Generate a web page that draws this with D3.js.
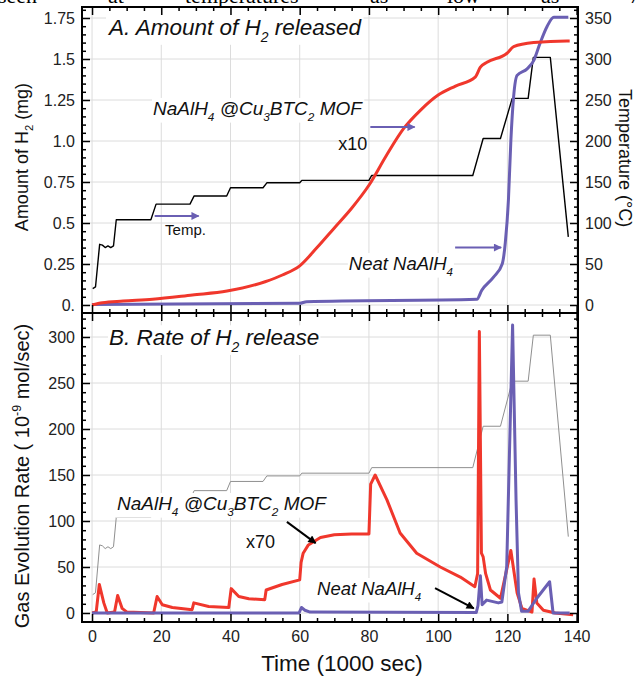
<!DOCTYPE html>
<html>
<head>
<meta charset="utf-8">
<script src="https://cdn.jsdelivr.net/npm/d3@7"></script>
<style>
  body { margin: 0; background: #fff; }
  svg { display: block; font-family: "Liberation Sans", Arial, sans-serif; }
  .grid line { stroke: #dcdcdc; stroke-width: 1; }
  .axis line { stroke: #000; stroke-width: 1.5; }
  .axis text { font-size: 16px; fill: #222; font-family: "Liberation Sans", Arial, sans-serif; }
</style>
</head>
<body>
<svg id="chart" width="638" height="679"></svg>
<script>
// ---- data (time in 1000 sec) ----
// temperature program, deg C (black line in A, gray in B)
var tempTime = [0.2, 1.0, 2.2, 3.0, 3.8, 4.6, 5.4, 6.2, 7.0, 17.0, 18.5, 28.3, 29.5, 38.9, 40.0, 49.4, 50.5, 60.0, 60.6, 80.0, 80.8, 110.0, 113.0, 118.0, 121.4, 126.0, 127.5, 132.4, 137.6];
var tempC    = [20, 22, 74, 73, 70, 72, 70, 72, 104, 104, 123, 123, 133, 133, 143, 143, 149, 149, 152, 152, 158, 158, 203, 203, 252, 252, 302, 302, 83];

// A: amount of H2 (mg)
var mofAmtTime = [0, 3, 9, 17.5, 29, 39, 50, 55, 60, 65, 70, 75, 80, 85, 90, 95, 100, 105, 110.7, 112.2, 114.1, 119.9, 121.8, 127.6, 137.2, 138];
var mofAmt     = [0, 0.014, 0.024, 0.035, 0.061, 0.085, 0.142, 0.183, 0.239, 0.35, 0.47, 0.59, 0.73, 0.91, 1.075, 1.19, 1.28, 1.335, 1.39, 1.45, 1.48, 1.535, 1.575, 1.60, 1.61, 1.61];
var neatAmtTime = [0, 60, 62, 111.2, 112.6, 116, 118.5, 119.4, 120.3, 121, 121.8, 122.8, 125.7, 127.6, 129.5, 131.5, 133.4, 137.6];
var neatAmt     = [0.003, 0.01, 0.02, 0.035, 0.09, 0.17, 0.25, 0.38, 0.64, 1.0, 1.27, 1.40, 1.44, 1.49, 1.60, 1.70, 1.755, 1.755];

// B: gas evolution rate (1e-9 mol/sec)
var mofRateTime = [0, 1.2, 2.1, 3.4, 4.4, 6.5, 7.4, 8.7, 10.1, 17.8, 18.8, 20.3, 23.2, 28.9, 29.4, 33.7, 39.5, 40.2, 42.4, 45.3, 49.9, 50.3, 54.9, 60.0, 60.4, 61, 62.5, 66, 70, 75, 80.0, 80.5, 81.8, 85.2, 89, 93.8, 100.6, 106.4, 110.6, 111.4, 111.9, 112.5, 113.0, 113.7, 115.1, 118, 121, 122.8, 124.2, 127.1, 127.7, 128.5, 130.4, 133.8, 139];
var mofRate     = [0, 1, 31, 11, 0, 1, 19, 5, 1, 0, 18, 9, 6, 3.6, 11, 7, 6, 26.5, 18, 15.5, 14.5, 25, 31, 36, 55, 65, 74, 82, 85, 86, 86, 140, 150, 123, 87, 65, 50, 39, 28.6, 43, 306, 65, 61, 43, 25, 16, 68, 22, 5, 1, 37, 11, 3, 0, -2];
var neatRateTime = [0, 59.8, 60.5, 61.5, 63, 111, 111.5, 112.2, 112.7, 114, 117.4, 118.4, 119.8, 121.5, 122.5, 123.2, 124.1, 126, 128.5, 132.2, 133.2, 138];
var neatRate     = [0, 0, 6, 3, 1, 0.5, 8, 40.5, 9, 14, 11, 12, 50, 313, 123, 22, 2, 2, 16, 34, 0, 0];

var leftTicksA = ["0.", "0.25", "0.5", "0.75", "1.0", "1.25", "1.5", "1.75"];

var svg = d3.select("#chart");
var left = 82, right = 578, topA = 7, midY = 313, botB = 622;

var x = d3.scaleLinear().domain([-2.9, 140.4]).range([left, right]);
var yA = d3.scaleLinear().domain([0, 1.75]).range([305, 18]);
var yT = d3.scaleLinear().domain([0, 350]).range([305, 18]);
var yB = d3.scaleLinear().domain([0, 300]).range([613, 337]);

var red = "#f0372c", purple = "#6a5fb3";

// sentence fragment cut off above the figure
var words = [["seen", -2], ["at", 108], ["temperatures", 185], ["as", 370], ["low", 447], ["as", 541], ["70", 629]];
words.forEach(function (w) {
  svg.append("text").attr("x", w[1]).attr("y", 2.5)
    .attr("font-family", "Liberation Serif, Times New Roman, serif")
    .attr("font-size", 22).text(w[0]);
});

// clip paths
var defs = svg.append("defs");
defs.append("clipPath").attr("id", "clipA").append("rect")
  .attr("x", left).attr("y", topA).attr("width", right - left).attr("height", midY - topA);
defs.append("clipPath").attr("id", "clipB").append("rect")
  .attr("x", left).attr("y", midY).attr("width", right - left).attr("height", botB - midY);
function marker(id, col) {
  defs.append("marker").attr("id", id).attr("viewBox", "0 0 10 10")
    .attr("refX", 9).attr("refY", 5).attr("markerWidth", 10).attr("markerHeight", 8)
    .attr("markerUnits", "userSpaceOnUse").attr("orient", "auto")
    .append("path").attr("d", "M0,0 L10,5 L0,10 Z").attr("fill", col);
}
marker("headP", purple);
marker("headK", "#000");

// grid
var grid = svg.append("g").attr("class", "grid");
var xMaj = d3.range(0, 141, 20);
xMaj.forEach(function (t) {
  grid.append("line").attr("x1", x(t)).attr("x2", x(t)).attr("y1", topA).attr("y2", botB);
});
d3.range(0, 1.76, 0.25).forEach(function (v) {
  grid.append("line").attr("x1", left).attr("x2", right).attr("y1", yA(v)).attr("y2", yA(v));
});
d3.range(0, 301, 50).forEach(function (v) {
  grid.append("line").attr("x1", left).attr("x2", right).attr("y1", yB(v)).attr("y2", yB(v));
});

// lines
function series(tt, vv, ys, clip, col, w, curve) {
  var pts = tt.map(function (t, i) { return [t, vv[i]]; });
  var line = d3.line().x(function (d) { return x(d[0]); }).y(function (d) { return ys(d[1]); })
    .curve(curve || d3.curveLinear);
  svg.append("path").attr("d", line(pts)).attr("clip-path", "url(#" + clip + ")")
    .attr("fill", "none").attr("stroke", col).attr("stroke-width", w)
    .attr("stroke-linejoin", "round");
}
series(tempTime, tempC, yT, "clipA", "#000", 1.4);
series(neatAmtTime, neatAmt, yA, "clipA", purple, 3, d3.curveMonotoneX);
series(mofAmtTime, mofAmt, yA, "clipA", red, 3, d3.curveMonotoneX);

series(tempTime, tempC, yB, "clipB", "#8f8f8f", 1);
series(mofRateTime, mofRate, yB, "clipB", red, 3);
series(neatRateTime, neatRate, yB, "clipB", purple, 3);

// axes
function axis(gen, scale, vals, size, tr, fmt) {
  var a = gen(scale).tickValues(vals).tickSize(size).tickSizeOuter(0).tickPadding(7)
    .tickFormat(fmt || function () { return ""; });
  var g = svg.append("g").attr("class", "axis").attr("transform", tr).call(a);
  g.select(".domain").remove();
  return g;
}
function minor(all, maj) {
  return all.filter(function (v) { return Math.abs(v / maj - Math.round(v / maj)) > 1e-6; });
}
var xMin = minor(d3.range(0, 141, 5), 20);
axis(d3.axisTop, x, xMaj, -8, "translate(0," + topA + ")");
axis(d3.axisTop, x, xMin, -4, "translate(0," + topA + ")");
axis(d3.axisBottom, x, xMaj, -8, "translate(0," + midY + ")");
axis(d3.axisBottom, x, xMin, -4, "translate(0," + midY + ")");
axis(d3.axisTop, x, xMaj, -8, "translate(0," + midY + ")");
axis(d3.axisTop, x, xMin, -4, "translate(0," + midY + ")");
axis(d3.axisBottom, x, xMaj, -8, "translate(0," + botB + ")", d3.format("d"))
  .selectAll("text").attr("font-size", 17).attr("y", 9);
axis(d3.axisBottom, x, xMin, -4, "translate(0," + botB + ")");

var aMaj = d3.range(0, 1.76, 0.25);
axis(d3.axisLeft, yA, aMaj, -8, "translate(" + left + ",0)", function (d, i) { return leftTicksA[i]; });
axis(d3.axisLeft, yA, minor(d3.range(0, 1.81, 0.05).map(function (v) { return +v.toFixed(2); }), 0.25), -4, "translate(" + left + ",0)");
axis(d3.axisRight, yT, d3.range(0, 351, 50), -8, "translate(" + right + ",0)", d3.format("d"));
axis(d3.axisRight, yT, minor(d3.range(0, 361, 10), 50), -4, "translate(" + right + ",0)");

var bMaj = d3.range(0, 301, 50);
var bMin = minor(d3.range(0, 321, 10), 50);
axis(d3.axisLeft, yB, bMaj, -8, "translate(" + left + ",0)", d3.format("d"));
axis(d3.axisLeft, yB, bMin, -4, "translate(" + left + ",0)");
axis(d3.axisRight, yB, bMaj, -8, "translate(" + right + ",0)");
axis(d3.axisRight, yB, bMin, -4, "translate(" + right + ",0)");

// frame
svg.append("rect").attr("x", left).attr("y", topA).attr("width", right - left).attr("height", botB - topA)
  .attr("fill", "none").attr("stroke", "#000").attr("stroke-width", 2);
svg.append("line").attr("x1", left).attr("x2", right).attr("y1", midY).attr("y2", midY)
  .attr("stroke", "#000").attr("stroke-width", 2);

// text with sub/superscripts
function rich(parent, x0, y0, parts, size, italic, bg, anchor) {
  var t = parent.append("text").attr("x", x0).attr("y", y0).attr("font-size", size)
    .attr("fill", "#111").attr("text-anchor", anchor || "start")
    .attr("font-style", italic ? "italic" : "normal");
  var shift = 0;
  parts.forEach(function (p) {
    if (typeof p === "string") p = { t: p };
    var want = p.s === "sub" ? size * 0.3 : p.s === "sup" ? -size * 0.4 : 0;
    t.append("tspan").attr("dy", want - shift).attr("font-size", p.s ? size * 0.62 : size).text(p.t);
    shift = want;
  });
  if (bg) {
    var b = t.node().getBBox();
    parent.insert("rect", function () { return t.node(); })
      .attr("x", b.x - 1).attr("y", b.y).attr("width", b.width + 2).attr("height", b.height)
      .attr("fill", "#fff");
  }
  return t;
}
var mofParts = ["NaAlH", { t: "4", s: "sub" }, " @Cu", { t: "3", s: "sub" }, "BTC", { t: "2", s: "sub" }, " MOF"];
var neatParts = ["Neat NaAlH", { t: "4", s: "sub" }];

rich(svg, x(4.9), yA(1.646), ["A. Amount of H", { t: "2", s: "sub" }, " released"], 22.5, true, true);
rich(svg, x(17.6), yA(1.159), mofParts, 19, true, true);
rich(svg, x(71.1), yA(0.945), ["x10"], 18, false, false);
rich(svg, x(21.1), yA(0.427), ["Temp."], 15, false, false);
rich(svg, x(74.2), yA(0.213), neatParts, 18.5, true, true);

rich(svg, x(4.9), yB(291), ["B. Rate of H", { t: "2", s: "sub" }, " release"], 22.5, true, true);
rich(svg, x(7.2), yB(112), mofParts, 19, true, true);
rich(svg, x(44.5), yB(70.7), ["x70"], 18, false, false);
rich(svg, x(65.0), yB(19.6), neatParts, 18.5, true, true);

// arrows
function arrow(t1, v1, t2, v2, ys, col, head) {
  svg.append("line").attr("x1", x(t1)).attr("y1", ys(v1)).attr("x2", x(t2)).attr("y2", ys(v2))
    .attr("stroke", col).attr("stroke-width", 2).attr("marker-end", "url(#" + head + ")");
}
arrow(80.4, 1.085, 93.2, 1.085, yA, purple, "headP");
arrow(18.1, 0.543, 30.8, 0.543, yA, purple, "headP");
arrow(104.9, 0.35, 118.2, 0.35, yA, purple, "headP");
arrow(56.3, 99, 64.6, 76, yB, "#000", "headK");
arrow(99.1, 27, 110.3, 5, yB, "#000", "headK");

// axis titles
function vtitle(cx, cy, rot, parts, size) {
  var g = svg.append("g").attr("transform", "translate(" + cx + "," + cy + ") rotate(" + rot + ")");
  rich(g, 0, 6, parts, size, false, false, "middle");
}
vtitle(22, 157, -90, ["Amount of H", { t: "2", s: "sub" }, " (mg)"], 18);
vtitle(625, 158, 90, ["Temperature (\u00B0C)"], 18);
vtitle(23, 476, -90, ["Gas Evolution Rate ( 10", { t: "-9", s: "sup" }, " mol/sec)"], 20);
rich(svg, 342, 671, ["Time (1000 sec)"], 22.5, false, false, "middle");
</script>
</body>
</html>
